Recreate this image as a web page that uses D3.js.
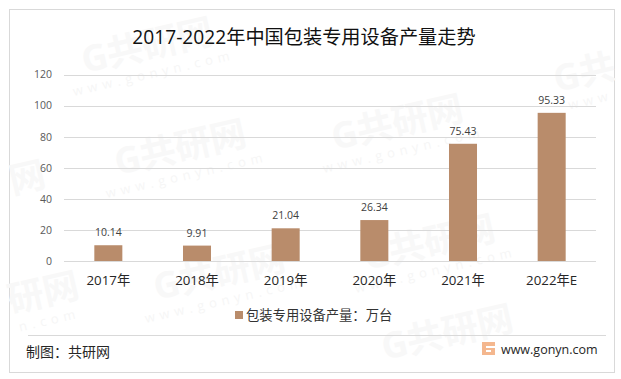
<!DOCTYPE html>
<html>
<head>
<meta charset="utf-8">
<script src="https://cdn.jsdelivr.net/npm/d3@7"></script>
<style>
  html, body { margin: 0; padding: 0; background: #fff; }
  text { font-family: "Open Sans", "Noto Sans CJK SC", sans-serif; }
</style>
</head>
<body>
<div id="chart-area"></div>
<script>
//chart values
const categories = ["2017年", "2018年", "2019年", "2020年", "2021年", "2022年E"];
const values = [10.14, 9.91, 21.04, 26.34, 75.43, 95.33];
const yTicks = [0, 20, 40, 60, 80, 100, 120];
const seriesName = "包装专用设备产量：万台";
const title = "2017-2022年中国包装专用设备产量走势";
//watermarks: centre x, centre y, big text, small text
const marks = [
  [150, 58, "G共研网", "www.gonyn.com"],
  [183, 160, "G共研网", "www.gonyn.com"],
  [222, 285, "G共研网", "www.gonyn.com"],
  [400, 135, "G共研网", "www.gonyn.com"],
  [432, 255, "G共研网", "www.gonyn.com"],
  [450, 345, "G共研网", ""],
  [30, 190, "网", ""],
  [46, 305, "研网", "n.com"],
  [587, 85, "G共", "www"]
];

const chartDim = { width: 621, height: 379 };
const plot = { left: 64, right: 596, top: 74.5, bottom: 261 };

const svg = d3.select("#chart-area")
  .append("svg")
  .attr("width", chartDim.width)
  .attr("height", chartDim.height)
  .style("display", "block");

//frame
svg.append("rect")
  .attr("x", 9.5).attr("y", 9.5)
  .attr("width", 605).attr("height", 363)
  .attr("fill", "#fff")
  .attr("stroke", "#d9d9d9");

//watermarks
const wm = svg.selectAll(".wm").data(marks).enter().append("g")
  .attr("class", "wm")
  .attr("transform", d => "translate(" + d[0] + "," + d[1] + ") rotate(-13)");
wm.append("text")
  .attr("text-anchor", "middle")
  .attr("font-size", 36)
  .attr("font-weight", 700)
  .attr("fill", "#f8f8f8")
  .text(d => d[2]);
wm.append("text")
  .attr("text-anchor", "middle")
  .attr("y", 20)
  .attr("font-size", 13)
  .attr("letter-spacing", 5)
  .attr("fill", "#f6f6f6")
  .text(d => d[3]);

//scales
const x = d3.scaleBand()
  .domain(categories)
  .range([plot.left, plot.right])
  .paddingInner(0.684)
  .paddingOuter(0.342);

const y = d3.scaleLinear()
  .domain([0, 120])
  .range([plot.bottom, plot.top]);

//gridlines
svg.selectAll(".grid").data(yTicks).enter().append("line")
  .attr("class", "grid")
  .attr("x1", plot.left).attr("x2", plot.right)
  .attr("y1", d => Math.round(y(d)) + 0.5)
  .attr("y2", d => Math.round(y(d)) + 0.5)
  .attr("stroke", "#d9d9d9");

//axes
const yAxis = d3.axisLeft(y).tickValues(yTicks).tickSize(0).tickPadding(12);
const yG = svg.append("g")
  .attr("transform", "translate(" + plot.left + ",0)")
  .call(yAxis);
yG.select(".domain").remove();
yG.selectAll("text")
  .style("font-size", "10.5px")
  .style("fill", "#595959");

const xAxis = d3.axisBottom(x).tickSize(0).tickPadding(15);
const xG = svg.append("g")
  .attr("transform", "translate(0," + plot.bottom + ")")
  .call(xAxis);
xG.select(".domain").remove();
xG.selectAll("text")
  .style("font-size", "13.3px")
  .style("fill", "#262626");

//bars
svg.selectAll(".bar").data(values).enter().append("rect")
  .attr("class", "bar")
  .attr("x", (d, i) => x(categories[i]))
  .attr("y", d => y(d))
  .attr("width", x.bandwidth())
  .attr("height", d => y(0) - y(d))
  .attr("fill", "#b98c6b");

//value labels
svg.selectAll(".val").data(values).enter().append("text")
  .attr("class", "val")
  .attr("x", (d, i) => x(categories[i]) + x.bandwidth() / 2)
  .attr("y", d => y(d) - 9)
  .attr("text-anchor", "middle")
  .attr("font-size", 10.5)
  .attr("fill", "#404040")
  .text(d => d);

//title
svg.append("text")
  .attr("x", 304)
  .attr("y", 44)
  .attr("text-anchor", "middle")
  .attr("font-size", 19.2)
  .attr("fill", "#111")
  .text(title);

//legend
svg.append("rect")
  .attr("x", 235).attr("y", 311)
  .attr("width", 8).attr("height", 8)
  .attr("fill", "#b98c6b");
svg.append("text")
  .attr("x", 246)
  .attr("y", 320)
  .attr("font-size", 13.3)
  .attr("fill", "#333")
  .text(seriesName);

//footer
svg.append("line")
  .attr("x1", 28).attr("x2", 606)
  .attr("y1", 335.5).attr("y2", 335.5)
  .attr("stroke", "#d9d9d9");
svg.append("text")
  .attr("x", 26)
  .attr("y", 357)
  .attr("font-size", 14)
  .attr("fill", "#262626")
  .text("制图：共研网");

//logo
const logo = svg.append("g").attr("transform", "translate(482,342)");
logo.append("rect").attr("width", 13).attr("height", 13).attr("fill", "#f4b78e");
logo.append("rect").attr("x", 4).attr("y", 4).attr("width", 9).attr("height", 2).attr("fill", "#fff");
logo.append("rect").attr("x", 4).attr("y", 8).attr("width", 5).attr("height", 2).attr("fill", "#fff");

svg.append("text")
  .attr("x", 501)
  .attr("y", 354)
  .attr("font-size", 12.5)
  .attr("fill", "#262626")
  .text("www.gonyn.com");
</script>
</body>
</html>
